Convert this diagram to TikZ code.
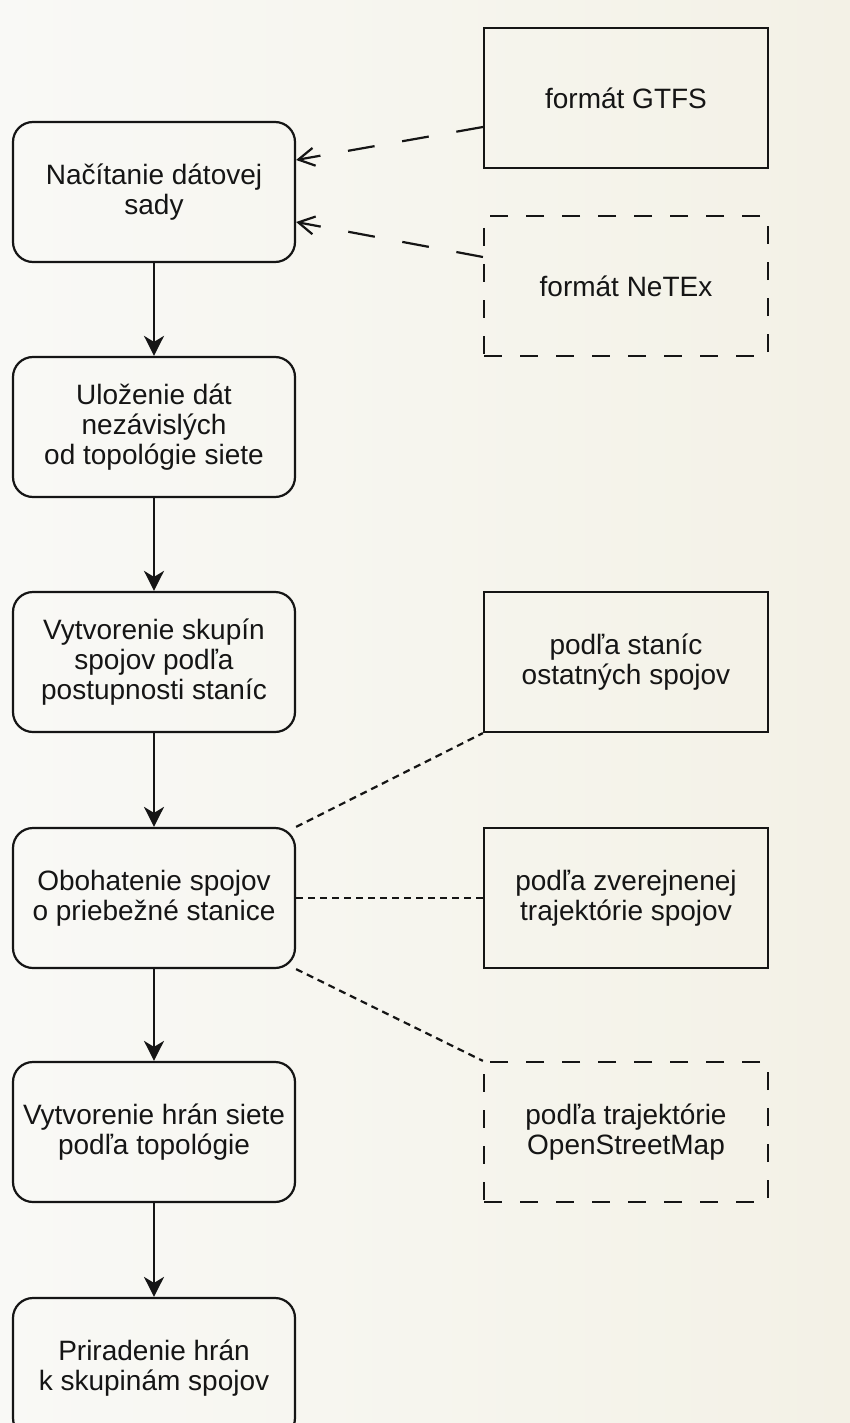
\documentclass[tikz,border=0pt]{standalone}
\usepackage{fontspec}
\setmainfont{Liberation Sans}
\usetikzlibrary{arrows.meta}
\definecolor{bgA}{HTML}{F3F1E6}
\definecolor{bgB}{HTML}{F9F9F6}
\definecolor{ink}{HTML}{151515}
\begin{document}
\begin{tikzpicture}[x=1pt,y=-1pt,
  txt/.style={align=center, font=\fontsize{28}{30}\selectfont, text=ink, inner sep=0pt},
  stepbox/.style={txt, draw=ink, line width=2.2pt, rounded corners=20pt, minimum width=282pt, minimum height=140pt},
  srcbox/.style={txt, draw=ink, line width=2.2pt, minimum width=284pt, minimum height=140pt},
  dashbox/.style={srcbox, dash pattern=on 18pt off 18pt},
  flow/.style={draw=ink, line width=2.2pt, -{Stealth[length=20pt, width=20pt, inset=6pt]}},
  input/.style={draw=ink, line width=2.2pt, dash pattern=on 27pt off 28pt, -{Straight Barb[length=16pt, width=18pt, line width=2.2pt]}},
  link/.style={draw=ink, line width=2.2pt, dash pattern=on 7pt off 5pt}]
\useasboundingbox (0,0) rectangle (850,1423);
\clip (0,0) rectangle (850,1423);
\shade[left color=bgB, right color=bgA] (0,0) rectangle (850,1423);

\node[stepbox] (b1) at (154,192) {Načítanie dátovej\\sady};
\node[stepbox] (b2) at (154,427) {Uloženie dát\\nezávislých\\od topológie siete};
\node[stepbox] (b3) at (154,662) {Vytvorenie skupín\\spojov podľa\\postupnosti staníc};
\node[stepbox] (b4) at (154,898) {Obohatenie spojov\\o priebežné stanice};
\node[stepbox] (b5) at (154,1132) {Vytvorenie hrán siete\\podľa topológie};
\node[stepbox] (b6) at (154,1368) {Priradenie hrán\\k skupinám spojov};

\node[srcbox] (gtfs) at (626,98) {formát GTFS};
\node[dashbox] (netex) at (626,286) {formát NeTEx};
\node[srcbox] (sta) at (626,662) {podľa staníc\\ostatných spojov};
\node[srcbox] (zver) at (626,898) {podľa zverejnenej\\trajektórie spojov};
\node[dashbox] (osm) at (626,1132) {podľa trajektórie\\OpenStreetMap};

\draw[flow] (b1) -- (b2);
\draw[flow] (b2) -- (b3);
\draw[flow] (b3) -- (b4);
\draw[flow] (b4) -- (b5);
\draw[flow] (b5) -- (b6);

\draw[input] ([yshift=-29pt]gtfs.west) -- ([yshift=32pt]b1.east);
\draw[input] ([yshift=29pt]netex.west) -- ([yshift=-30pt]b1.east);

\draw[link] (b4.north east) -- (sta.south west);
\draw[link] (b4.east) -- (zver.west);
\draw[link] (b4.south east) -- (osm.north west);
\end{tikzpicture}
\end{document}
